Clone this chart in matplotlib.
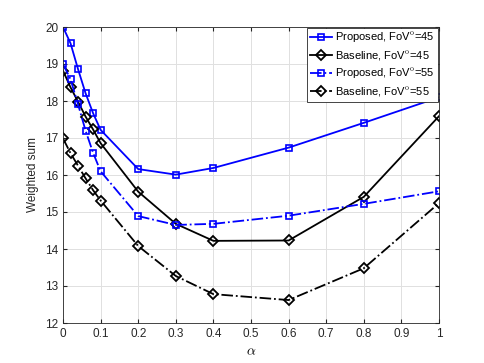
import matplotlib
matplotlib.use('Agg')
import matplotlib.pyplot as plt

alpha = [0, 0.02, 0.04, 0.06, 0.08, 0.1, 0.2, 0.3, 0.4, 0.6, 0.8, 1.0]
prop45 = [20.0, 19.56, 18.86, 18.21, 17.67, 17.22, 16.16, 16.01, 16.19, 16.74, 17.41, 18.1]
base45 = [18.82, 18.37, 17.98, 17.58, 17.23, 16.86, 15.55, 14.68, 14.22, 14.23, 15.41, 17.59]
prop55 = [19.0, 18.59, 17.91, 17.2, 16.6, 16.1, 14.89, 14.65, 14.68, 14.9, 15.22, 15.56]
base55 = [16.99, 16.59, 16.25, 15.91, 15.59, 15.31, 14.08, 13.27, 12.78, 12.62, 13.48, 15.24]

plt.rcParams['font.family'] = ['Liberation Sans', 'DejaVu Sans']
plt.rcParams['mathtext.fontset'] = 'cm'

fig = plt.figure(figsize=(4.85, 3.63), dpi=100)
ax = fig.add_axes([63/485, 1 - 323/363, (439-63)/485, (323-27)/363])

ax.plot(alpha, prop45, color='blue', ls='-', lw=1.3, marker='s', ms=5, mfc='none', mew=1.2,
        label='Proposed, FoV$^{\\mathrm{o}}$=45')
ax.plot(alpha, base45, color='black', ls='-', lw=1.3, marker='D', ms=5, mfc='none', mew=1.3,
        label='Baseline, FoV$^{\\mathrm{o}}$=45')
ax.plot(alpha, prop55, color='blue', ls='-.', lw=1.3, marker='s', ms=5, mfc='none', mew=1.2,
        label='Proposed, FoV$^{\\mathrm{o}}$=55')
ax.plot(alpha, base55, color='black', ls='-.', lw=1.3, marker='D', ms=5, mfc='none', mew=1.3,
        label='Baseline, FoV$^{\\mathrm{o}}$=55')

ax.set_xlim(0, 1)
ax.set_ylim(12, 20)
ax.set_xticks([0, 0.1, 0.2, 0.3, 0.4, 0.5, 0.6, 0.7, 0.8, 0.9, 1])
ax.set_xticklabels(['0', '0.1', '0.2', '0.3', '0.4', '0.5', '0.6', '0.7', '0.8', '0.9', '1'])
ax.set_yticks(range(12, 21))
ax.grid(True, color='#e0e0e0', lw=0.7)
ax.set_axisbelow(True)
ax.tick_params(direction='in', labelsize=8.5, colors='#262626', length=3, top=True, right=True)
for s in ax.spines.values():
    s.set_color('#262626')
    s.set_linewidth(0.6)
ax.set_xlabel('$\\alpha$', fontsize=10, labelpad=3)
ax.set_ylabel('Weighted sum', fontsize=8.5, color='#262626')

leg = ax.legend(loc='upper right', fontsize=8, fancybox=False, framealpha=1,
                edgecolor='#262626', handlelength=2.0, handletextpad=0.3,
                labelspacing=0.35, borderpad=0.3, borderaxespad=0.05)
leg.get_frame().set_linewidth(0.6)

fig.savefig('out.png', dpi=100)
